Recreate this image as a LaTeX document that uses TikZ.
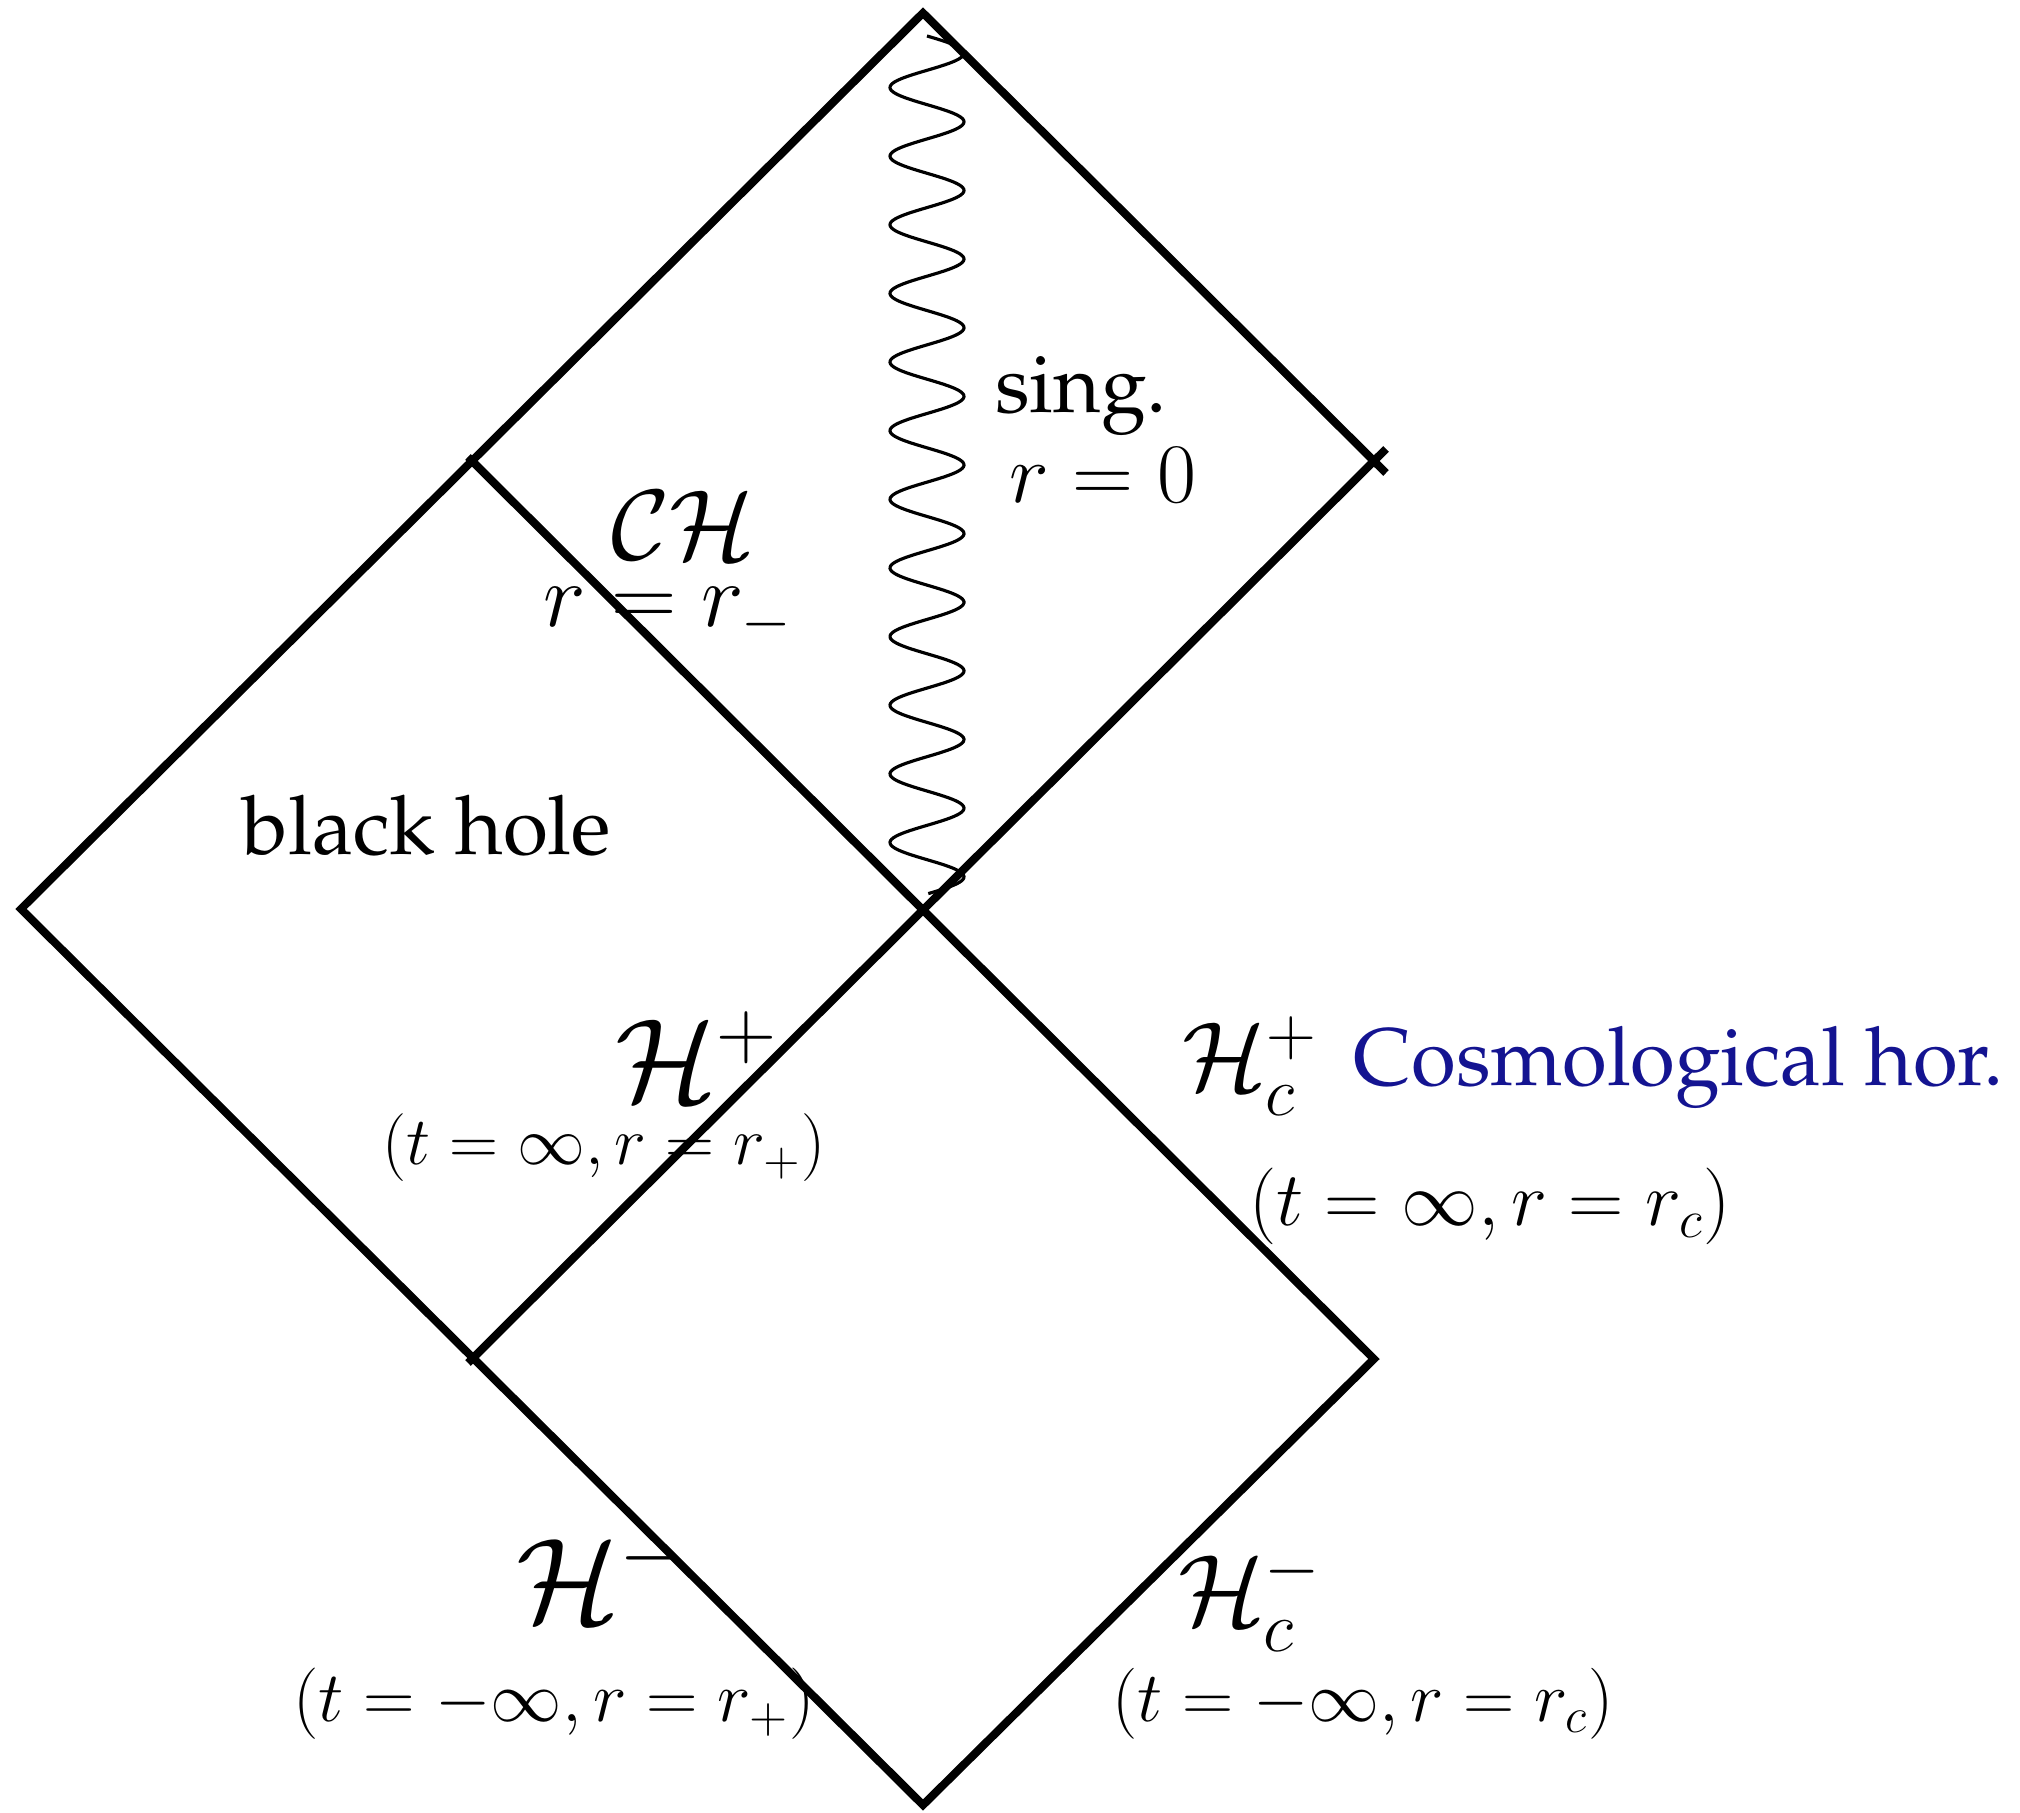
\RequirePackage{fix-cm}
\documentclass[tikz,border=0pt]{standalone}
\usepackage[T1]{fontenc}
\renewcommand{\rmdefault}{ppl}
\usetikzlibrary{calc}
\definecolor{cosmo}{RGB}{20,20,145}
\newcommand\fs[1]{\fontsize{#1}{1.2\dimexpr#1pt\relax}\selectfont}
\begin{document}
\begin{tikzpicture}[x=0.01cm,y=-0.01cm,
  edge/.style={line width=2.3pt, line join=miter},
  wave/.style={line width=0.9pt},
  lab/.style={inner sep=0pt, anchor=base}]
\useasboundingbox (0,0) rectangle (2020,1813);
\coordinate (T) at (923,13);
\coordinate (W) at (21,909);
\coordinate (Bt) at (923,1805);
\coordinate (R1) at (1374,461);
\coordinate (L1) at (472,461);
\coordinate (B1) at (472,1359);
\coordinate (R2) at (1374,1359);
\coordinate (C) at (923,909);
\draw[edge] ($(R1)+(12,12)$) -- (T) -- (W) -- (Bt) -- (R2) -- ($(L1)+(-4,-4)$);
\draw[edge] ($(B1)+(-4,4)$) -- ($(R1)+(12,-12)$);
\draw[wave] plot[domain=0:12.5, samples=600] ({927+37*sin(\x*360)}, {36+68.64*\x});
\node[lab, font=\fs{23.2}] (sing) at (1081,413) {sing.};
\node[lab, font=\fs{24.1}] (r0) at (1103,503) {$r=0$};
\node[lab, font=\fs{28.4}] (ch) at (683,560) {$\mathcal{CH}$};
\node[lab, font=\fs{25.8}] (rm) at (668,627) {$r=r_-$};
\node[lab, font=\fs{23.3}] (bh) at (427,855) {black hole};
\node[lab, font=\fs{33.8}] (hp) at (697,1102) {$\mathcal{H}^+$};
\node[lab, font=\fs{19.3}] (hpt) at (604,1165) {$(t=\infty, r=r_+)$};
\node[lab, font=\fs{28}] (hcp) at (1250,1091) {$\mathcal{H}_c^+$};
\node[lab, font=\fs{23.2}, text=cosmo] (cosmo) at (1679,1086) {Cosmological hor.};
\node[lab, font=\fs{21.8}] (hcpt) at (1490,1226) {$(t=\infty, r=r_c)$};
\node[lab, font=\fs{34.4}] (hm) at (602,1623) {$\mathcal{H}^-$};
\node[lab, font=\fs{28.9}] (hcm) at (1250,1626) {$\mathcal{H}_c^-$};
\node[lab, font=\fs{20.3}] (hmt) at (554,1722) {$(t=-\infty, r=r_+)$};
\node[lab, font=\fs{20.2}] (hcmt) at (1363,1722) {$(t=-\infty, r=r_c)$};
\end{tikzpicture}
\end{document}
